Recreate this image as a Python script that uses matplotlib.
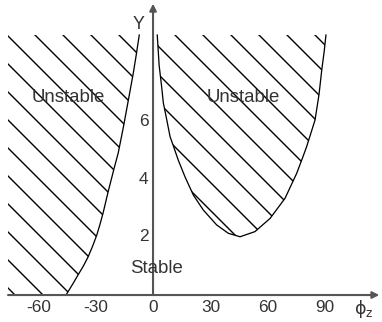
import matplotlib
matplotlib.use('Agg')
import matplotlib.pyplot as plt

# ---- data ----
left_phi = [-45.5, -42.0, -39.2, -36.5, -34.0, -31.6, -29.4, -27.7, -26.1, -23.5, -20.4, -18.2, -15.5, -12.9, -10.3, -8.7, -7.2]
left_Y   = [0.0,   0.38,  0.70,  1.00,  1.32,  1.70,  2.09,  2.47,  2.86,  3.59,  4.40,  4.95,  5.85,  6.79,  7.74,  8.40, 9.06]

right_phi = [2.2, 3.2, 4.5, 5.4, 7.2, 8.9, 10.6, 13.2, 16.7, 21.1, 26.3, 33.3, 39.4, 45.5,
             53.3, 61.2, 69.0, 75.1, 78.0, 80.3, 84.7, 86.8, 88.2, 89.5, 90.4]
right_Y   = [9.06, 8.0, 7.26, 6.69, 6.10, 5.52, 5.20, 4.70, 4.12, 3.48, 2.96, 2.44, 2.15, 2.03,
             2.21, 2.67, 3.37, 4.24, 4.75, 5.17, 6.10, 7.00, 7.84, 8.50, 9.06]

x_ticks = [-60, -30, 0, 30, 60, 90]
y_ticks = [2, 4, 6]
x_title = r'$\mathrm{\phi}_\mathrm{z}$'
y_title = 'Y'
region_labels = ['Unstable', 'Unstable', 'Stable']
region_pos = [(-44.4, 6.9), (47.0, 6.9), (1.6, 0.94)]

DPI = 168
plt.rcParams['hatch.linewidth'] = 0.6
plt.rcParams['mathtext.fontset'] = 'dejavusans'
fig = plt.figure(figsize=(382 / DPI, 322 / DPI), dpi=DPI)
ax = fig.add_axes([0, 0, 1, 1])
ax.set_xlim(-80, 119.7)
ax.set_ylim(-0.94, 10.28)
ax.axis('off')

top = left_Y[-1]
xmin_region = -75.8

# hatched regions
lp = [xmin_region] + left_phi + [xmin_region]
ly = [0.0] + left_Y + [top]
ax.fill(lp, ly, facecolor='none', edgecolor='black', linewidth=0, hatch='\\\\')
ax.fill(right_phi, right_Y, facecolor='none', edgecolor='black', linewidth=0, hatch='\\\\')

# boundary curves
ax.plot(left_phi, left_Y, color='black', lw=0.55, solid_joinstyle='round')
ax.plot(right_phi, right_Y, color='black', lw=0.55, solid_joinstyle='round')

# axes with arrows
axc = '#555555'
ax.annotate('', xy=(118.3, 0), xytext=(xmin_region, 0),
            arrowprops=dict(arrowstyle='-|>', color=axc, lw=0.9, mutation_scale=6,
                            shrinkA=0, shrinkB=0))
ax.annotate('', xy=(0, 10.15), xytext=(0, 0),
            arrowprops=dict(arrowstyle='-|>', color=axc, lw=0.9, mutation_scale=6,
                            shrinkA=0, shrinkB=0))

tc = '#333333'
fam = ['Liberation Sans', 'DejaVu Sans']
for t in x_ticks:
    ax.text(t, -0.44, str(t), ha='center', va='center', fontsize=7.4, color=tc, family=fam)
for t in y_ticks:
    ax.text(-2.4, t + 0.03, str(t), ha='right', va='center', fontsize=7.4, color=tc, family=fam)

ax.text(-7.8, 9.41, y_title, ha='center', va='center', fontsize=7.6, color=tc, family=fam)
ax.text(110.3, -0.5, x_title, ha='center', va='center', fontsize=7.4, color=tc)

for lab, (px, py) in zip(region_labels, region_pos):
    ax.text(px, py, lab, ha='center', va='center', fontsize=8.0, color=tc, family=fam)

fig.savefig('out.png', dpi=DPI, facecolor='white')
